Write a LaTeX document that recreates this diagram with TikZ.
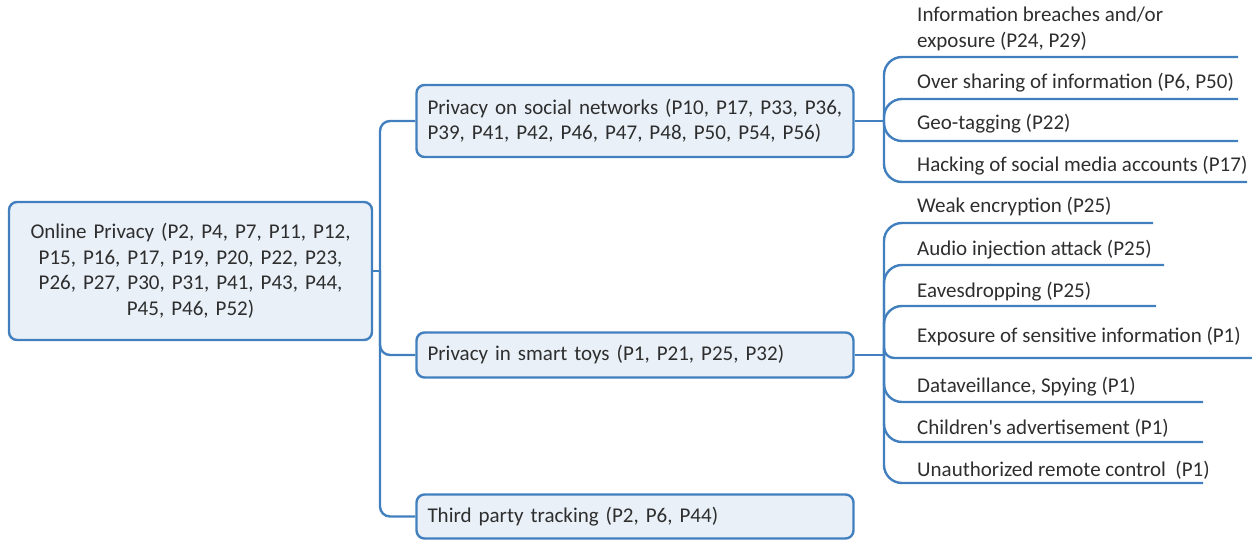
\documentclass[tikz,border=0pt]{standalone}
\usepackage{fontspec}
\setmainfont{Carlito}
\definecolor{lnblue}{HTML}{427FBE}
\definecolor{boxfill}{HTML}{E9F0F8}
\definecolor{txt}{HTML}{2E2E2E}
\begin{document}
\begin{tikzpicture}[x=1pt,y=-1pt,
  box/.style={draw=lnblue, line width=2.4pt, fill=boxfill, rounded corners=8pt, text=txt,
    font=\fontsize{21}{25.5}\selectfont, inner ysep=0pt},
  leaf/.style={anchor=west, text=txt, font=\fontsize{21}{25.5}\selectfont, inner sep=0pt, align=left},
  conn/.style={draw=lnblue, line width=2.4pt, rounded corners=10pt},
  fan/.style={draw=lnblue, line width=2.4pt, rounded corners=18pt}]
\useasboundingbox (0,0) rectangle (1252,540);

% main boxes
\node[box, text width=341pt, inner xsep=11pt, minimum height=138pt, align=center] (root) at (190.5,271)
  {Online Privacy (P2, P4, P7, P11, P12,\\P15, P16, P17, P19, P20, P22, P23,\\P26, P27, P30, P31, P41, P43, P44,\\P45, P46, P52)};
\node[box, text width=415pt, inner xsep=11pt, minimum height=72pt, align=left] (soc) at (635,121)
  {Privacy on social networks (P10, P17, P33, P36,\\P39, P41, P42, P46, P47, P48, P50, P54, P56)};
\node[box, text width=415pt, inner xsep=11pt, minimum height=45pt, align=left] (toy) at (635,355)
  {Privacy in smart toys (P1, P21, P25, P32)};
\node[box, text width=415pt, inner xsep=11pt, minimum height=44pt, align=left] (third) at (635,516.5)
  {Third party tracking (P2, P6, P44)};

% main connectors
\coordinate (hub) at (380,271);
\draw[conn] (root.east) -- (hub);
\draw[conn] (hub) |- (soc.west);
\draw[conn] (hub) |- (toy.west);
\draw[conn] (hub) |- (third.west);

% social network leaves
\coordinate (sh) at (884,121);
\draw[conn] (soc.east) -- (sh);
\node[leaf] (s1) at (917,29) {Information breaches and/or\\exposure (P24, P29)};
\node[leaf] (s2) at (917,83) {Over sharing of information (P6, P50)};
\node[leaf] (s3) at (917,124) {Geo-tagging (P22)};
\node[leaf] (s4) at (917,166) {Hacking of social media accounts (P17)};
\coordinate (s1e) at (1238,57);
\coordinate (s2e) at (1238,99);
\coordinate (s3e) at (1238,141);
\coordinate (s4e) at (1247,182);
\foreach \e in {s1e,s2e,s3e,s4e} \draw[fan] (sh) |- (\e);

% smart toy leaves
\coordinate (th) at (884,355);
\draw[conn] (toy.east) -- (th);
\node[leaf] (t1) at (917,207) {Weak encryption (P25)};
\node[leaf] (t2) at (917,250) {Audio injection attack (P25)};
\node[leaf] (t3) at (917,292) {Eavesdropping (P25)};
\node[leaf] (t4) at (917,337) {Exposure of sensitive information (P1)};
\node[leaf] (t5) at (917,387) {Dataveillance, Spying (P1)};
\node[leaf] (t6) at (917,428) {Children\textquotesingle s advertisement (P1)};
\node[leaf] (t7) at (917,470) {Unauthorized remote control\ \ (P1)};
\coordinate (t1e) at (1153,223);
\coordinate (t2e) at (1164,265);
\coordinate (t3e) at (1156,306);
\coordinate (t4e) at (1252,358);
\coordinate (t5e) at (1203,402);
\coordinate (t6e) at (1203,442);
\coordinate (t7e) at (1203,483);
\foreach \e in {t1e,t2e,t3e,t5e,t6e,t7e} \draw[fan] (th) |- (\e);
\draw[conn] (th) |- (t4e);
\end{tikzpicture}
\end{document}
